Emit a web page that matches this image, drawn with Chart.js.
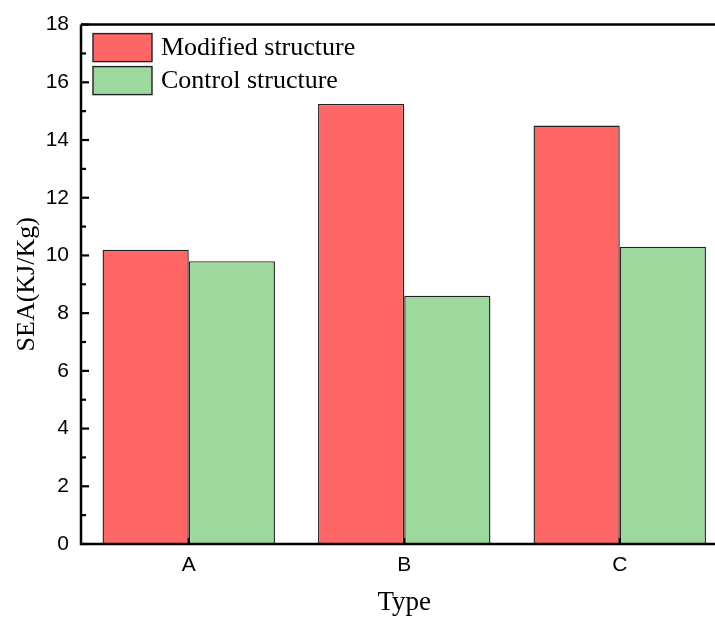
<!DOCTYPE html>
<html>
<head>
<meta charset="utf-8">
<script src="https://cdn.jsdelivr.net/npm/chart.js@4"></script>
<style>
  html, body { margin: 0; padding: 0; background: #fff; overflow: hidden; }
  #wrap { width: 715px; height: 619px; overflow: hidden; }
</style>
</head>
<body>
<div id="wrap"><canvas id="grafico" width="740" height="619"></canvas></div>
<script>
// Datos del gráfico
const categorias = ['A', 'B', 'C'];
const modificada = [10.2, 15.25, 14.5];
const control = [9.8, 8.6, 10.3];
const etiquetas = ['Modified structure', 'Control structure'];

// Ejes con marcas hacia dentro, leyenda dentro del área
const ejesPlugin = {
    id: 'ejes',
    afterDraw(chart) {
        const ctx = chart.ctx;
        const area = chart.chartArea;
        const y = chart.scales.y;
        const x = chart.scales.x;
        ctx.save();
        ctx.strokeStyle = '#000';
        ctx.lineWidth = 2.5;
        ctx.beginPath();
        ctx.moveTo(area.left, area.top);
        ctx.lineTo(area.right, area.top);
        ctx.moveTo(area.left, area.top);
        ctx.lineTo(area.left, area.bottom);
        ctx.lineTo(area.right, area.bottom);
        ctx.lineTo(area.right, area.top);
        ctx.stroke();

        // marcas del eje y
        ctx.lineWidth = 2.2;
        for (let v = y.min; v <= y.max; v++) {
            const py = y.getPixelForValue(v);
            const largo = v % 2 === 0 ? 8 : 5;
            ctx.beginPath();
            ctx.moveTo(area.left, py);
            ctx.lineTo(area.left + largo, py);
            ctx.stroke();
        }
        // marcas del eje x
        categorias.forEach((c, i) => {
            const px = x.getPixelForValue(i);
            ctx.beginPath();
            ctx.moveTo(px, area.bottom);
            ctx.lineTo(px, area.bottom - 6);
            ctx.stroke();
        });

        // leyenda
        ctx.font = '26px "Liberation Serif", "Times New Roman", serif';
        ctx.textBaseline = 'middle';
        ctx.textAlign = 'left';
        chart.data.datasets.forEach((ds, i) => {
            const bx = area.left + 12;
            const by = area.top + 9 + i * 33;
            ctx.fillStyle = ds.backgroundColor;
            ctx.fillRect(bx, by, 59, 28);
            ctx.lineWidth = 1.4;
            ctx.strokeStyle = '#222';
            ctx.strokeRect(bx, by, 59, 28);
            ctx.fillStyle = '#000';
            ctx.fillText(ds.label, bx + 68, by + 15);
        });
        ctx.restore();
    }
};

new Chart(document.getElementById('grafico'), {
    type: 'bar',
    data: {
        labels: categorias,
        datasets: [{
            label: etiquetas[0],
            data: modificada,
            backgroundColor: '#FF6666',
            borderColor: '#222',
            borderWidth: 1.4
        }, {
            label: etiquetas[1],
            data: control,
            backgroundColor: '#9DD89D',
            borderColor: '#222',
            borderWidth: 1.4
        }]
    },
    options: {
        responsive: false,
        animation: false,
        categoryPercentage: 0.8,
        barPercentage: 1.0,
        layout: { padding: { top: 23, right: 12.5, left: 0, bottom: 0 } },
        plugins: {
            legend: { display: false },
            tooltip: { enabled: false }
        },
        scales: {
            x: {
                grid: { display: false, drawTicks: false },
                border: { display: false },
                ticks: {
                    color: '#000',
                    padding: 9,
                    font: { family: '"Liberation Sans", Arial, sans-serif', size: 21 }
                },
                title: {
                    display: true,
                    text: 'Type',
                    color: '#000',
                    padding: { top: 0, bottom: 0 },
                    font: { family: '"Liberation Serif", "Times New Roman", serif', size: 27 }
                },
                afterFit(scale) { scale.height = 75; }
            },
            y: {
                min: 0,
                max: 18,
                grid: { display: false, drawTicks: false },
                border: { display: false },
                ticks: {
                    stepSize: 2,
                    color: '#000',
                    padding: 12,
                    font: { family: '"Liberation Sans", Arial, sans-serif', size: 21 }
                },
                title: {
                    display: true,
                    text: 'SEA(KJ/Kg)',
                    color: '#000',
                    padding: { top: 12, bottom: 0 },
                    font: { family: '"Liberation Serif", "Times New Roman", serif', size: 26 }
                },
                afterFit(scale) { scale.width = 81; }
            }
        }
    },
    plugins: [ejesPlugin]
});
</script>
</body>
</html>
